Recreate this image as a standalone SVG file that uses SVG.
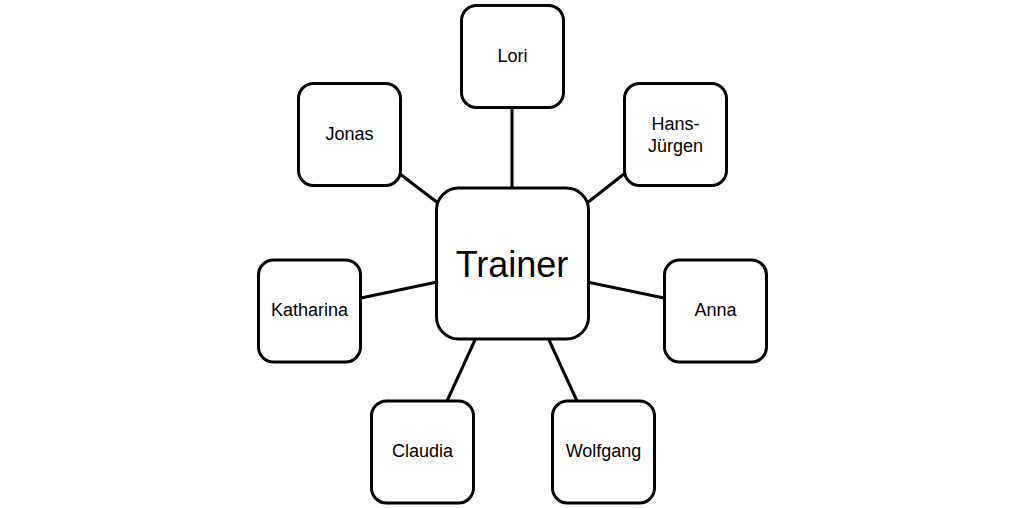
<svg xmlns="http://www.w3.org/2000/svg" width="1024" height="508" viewBox="0 0 1024 508">
<style>
.box{fill:#fff;stroke:#000;stroke-width:3}
.lbl{font-family:"Liberation Sans",Arial,sans-serif;font-size:18px;fill:#000;text-anchor:middle}
.big{font-family:"Liberation Sans",Arial,sans-serif;font-size:36px;fill:#000;text-anchor:middle}
.conn line{stroke:#000;stroke-width:3}
</style>
<rect width="1024" height="508" fill="#fff"/>
<g id="connectors" class="conn">
<line x1="512" y1="107" x2="512" y2="188"/>
<line x1="400" y1="174" x2="438" y2="203"/>
<line x1="624" y1="174" x2="587" y2="203"/>
<line x1="361" y1="298" x2="437" y2="282"/>
<line x1="587" y1="282" x2="664" y2="298"/>
<line x1="475" y1="340" x2="447" y2="401"/>
<line x1="549" y1="340" x2="577" y2="401"/>
</g>
<g id="trainer"><rect class="box" x="436.5" y="188" width="152" height="151" rx="22"/><text class="big" x="512" y="277">Trainer</text></g>
<g id="lori"><rect class="box" x="461.5" y="5.5" width="102" height="102" rx="15"/><text class="lbl" x="512.5" y="62">Lori</text></g>
<g id="jonas"><rect class="box" x="298.5" y="83.5" width="102" height="102" rx="15"/><text class="lbl" x="349.5" y="140">Jonas</text></g>
<g id="hansjuergen"><rect class="box" x="624.5" y="83.5" width="102" height="102" rx="15"/><text class="lbl" x="675.5" y="130">Hans-</text><text class="lbl" x="675.5" y="152">Jürgen</text></g>
<g id="katharina"><rect class="box" x="258.5" y="260" width="102" height="102" rx="15"/><text class="lbl" x="309.5" y="316">Katharina</text></g>
<g id="anna"><rect class="box" x="664.5" y="260" width="102" height="102" rx="15"/><text class="lbl" x="715.5" y="316">Anna</text></g>
<g id="claudia"><rect class="box" x="371.5" y="401" width="102" height="102" rx="15"/><text class="lbl" x="422.5" y="457">Claudia</text></g>
<g id="wolfgang"><rect class="box" x="552.5" y="401" width="102" height="102" rx="15"/><text class="lbl" x="603.5" y="457">Wolfgang</text></g>
</svg>
